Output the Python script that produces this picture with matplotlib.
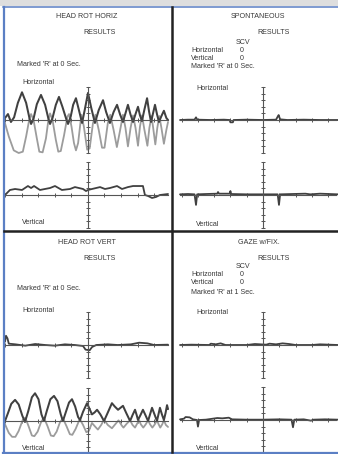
import matplotlib
matplotlib.use("Agg")
import matplotlib.pyplot as plt
from matplotlib.lines import Line2D
from matplotlib.patches import Rectangle

plt.rcParams['font.family'] = ['Liberation Sans', 'DejaVu Sans']

W, H = 338, 454

# ---- panel titles and result captions ----
PANEL_TITLES = ["HEAD ROT HORIZ", "SPONTANEOUS", "HEAD ROT VERT", "GAZE w/FIX."]
MARK_TEXT = ["Marked 'R' at 0 Sec.", "Marked 'R' at 0 Sec.",
             "Marked 'R' at 0 Sec.", "Marked 'R' at 1 Sec."]
SCV_HORIZ = [None, "0", None, "0"]
SCV_VERT = [None, "0", None, "0"]

# ---- eye traces: (time in s, amplitude) ----
TL_HORIZ_DARK = [(-5.03, 0.3), (-4.85, 0.9), (-4.67, -0.3), (-4.48, 0.4), (-4.25, 2.6), (-4.0, 4.2),
                 (-3.75, 2.6), (-3.55, 0.3), (-3.45, -0.6), (-3.3, 0.2), (-3.1, 2.4), (-2.85, 3.8),
                 (-2.6, 2.3), (-2.4, 0.2), (-2.3, -0.6), (-2.15, 0.3), (-1.95, 2.3), (-1.76, 3.5),
                 (-1.55, 2.0), (-1.3, 0.0), (-1.21, -0.6), (-1.05, 0.5), (-0.9, 2.3), (-0.73, 3.3),
                 (-0.55, 1.5), (-0.36, -0.45), (-0.2, 1.5), (0.0, 4.1), (0.2, 1.8), (0.42, -0.45),
                 (0.65, 1.5), (0.91, 3.0), (1.1, 1.2), (1.33, -0.45), (1.55, 1.2), (1.76, 2.3),
                 (1.95, 0.8), (2.12, -0.3), (2.27, 1.0), (2.42, 2.3), (2.58, 0.8), (2.73, -0.3),
                 (2.88, 0.9), (3.03, 2.0), (3.15, 0.7), (3.27, -0.15), (3.42, 1.6), (3.58, 3.3),
                 (3.7, 1.3), (3.82, -0.3), (3.94, 1.0), (4.06, 2.3), (4.18, 0.9), (4.3, -0.3),
                 (4.45, 0.6), (4.6, 1.4), (4.75, 0.3), (4.85, 0.0)]

TL_HORIZ_LIGHT = [(-5.03, -0.5), (-4.8, -2.5), (-4.5, -4.6), (-4.2, -5.0), (-3.95, -4.8), (-3.75, -2.5),
                  (-3.55, 0.2), (-3.45, 0.9), (-3.3, 0.0), (-3.1, -2.8), (-2.95, -4.8), (-2.75, -4.9),
                  (-2.55, -2.8), (-2.4, 0.0), (-2.3, 1.0), (-2.15, 0.0), (-1.95, -3.0), (-1.8, -4.8),
                  (-1.65, -4.7), (-1.45, -2.3), (-1.25, 0.5), (-1.15, 0.9), (-1.0, -1.0), (-0.85, -3.5),
                  (-0.73, -4.6), (-0.6, -3.5), (-0.4, 0.8), (-0.25, -1.0), (-0.05, -4.5), (0.1, -4.3),
                  (0.3, -0.5), (0.45, 0.8), (0.65, -1.5), (0.85, -4.2), (1.0, -4.2), (1.2, -0.5),
                  (1.35, 0.8), (1.55, -1.5), (1.75, -4.1), (1.95, -1.5), (2.12, 0.8), (2.27, -1.2),
                  (2.42, -4.0), (2.58, -1.2), (2.73, 0.7), (2.88, -1.2), (3.03, -3.9), (3.15, -1.0),
                  (3.27, 0.7), (3.42, -1.5), (3.6, -3.9), (3.72, -1.2), (3.85, 0.6), (3.95, -1.2),
                  (4.08, -3.7), (4.2, -1.2), (4.32, 0.6), (4.45, -1.2), (4.6, -3.6), (4.75, -1.5),
                  (4.85, -0.3)]

TL_VERT = [(-5.03, 0.0), (-4.73, 0.76), (-4.42, 0.91), (-4.0, 0.76), (-3.64, 1.36), (-3.45, 1.06),
           (-3.27, 1.36), (-2.91, 0.76), (-2.61, 0.91), (-2.3, 1.06), (-2.0, 1.36), (-1.58, 0.76),
           (-1.09, 0.91), (-0.79, 1.2), (-0.3, 0.91), (-0.12, 0.6), (0.0, 0.76), (0.24, 0.91),
           (0.73, 1.2), (1.03, 0.91), (1.33, 1.06), (1.76, 1.36), (2.06, 0.91), (2.42, 1.2),
           (2.73, 1.36), (3.03, 1.36), (3.33, 1.36), (3.45, 0.0), (3.64, -0.15), (3.88, -0.45),
           (4.12, -0.3), (4.36, 0.0), (4.85, 0.15)]

TR_HORIZ = [(-5.09, 0.0), (-4.6, 0.05), (-4.2, 0.05), (-4.11, 0.4), (-4.03, 0.05), (-3.2, 0.0),
            (-2.4, 0.05), (-2.05, 0.0), (-2.0, -0.35), (-1.85, -0.35), (-1.8, 0.0), (-1.0, 0.05),
            (0.0, 0.0), (0.8, 0.05), (0.9, 0.5), (0.96, 0.75), (1.05, 0.1), (1.5, 0.0),
            (2.5, 0.05), (3.5, 0.0), (4.6, 0.0)]

TR_VERT = [(-5.09, 0.1), (-4.6, 0.15), (-4.2, 0.1), (-4.11, -1.5), (-4.04, 0.1), (-3.5, 0.15),
           (-2.8, 0.2), (-2.76, 0.45), (-2.7, 0.2), (-2.05, 0.2), (-2.0, 0.6), (-1.95, 0.15),
           (-1.0, 0.1), (0.0, 0.1), (0.9, 0.1), (0.98, -1.5), (1.05, 0.1), (1.8, 0.15),
           (2.6, 0.2), (2.9, 0.1), (3.5, 0.2), (4.6, 0.1)]

BL_HORIZ = [(-5.03, 0.5), (-4.97, 1.4), (-4.88, 1.0), (-4.8, 0.2), (-4.4, 0.1), (-3.8, -0.1),
            (-3.2, 0.15), (-2.6, 0.0), (-2.0, -0.1), (-1.4, 0.1), (-0.8, 0.0), (-0.3, -0.15),
            (-0.15, -0.7), (0.1, -0.8), (0.25, -0.3), (0.5, 0.0), (1.2, 0.1), (1.8, 0.0),
            (2.6, 0.1), (3.1, 0.35), (3.6, 0.25), (4.0, 0.0), (4.85, 0.05)]

BL_VERT_DARK = [(-5.03, 0.0), (-4.85, 1.2), (-4.65, 2.6), (-4.42, 3.2), (-4.2, 2.5), (-3.98, 0.8),
                (-3.82, -0.15), (-3.62, 1.5), (-3.4, 3.6), (-3.21, 4.2), (-3.0, 3.3), (-2.82, 1.0),
                (-2.67, 0.0), (-2.5, 1.5), (-2.28, 3.3), (-2.06, 3.8), (-1.85, 3.0), (-1.65, 1.0),
                (-1.52, 0.0), (-1.35, 1.3), (-1.15, 2.8), (-0.97, 3.3), (-0.78, 2.2), (-0.6, 0.6),
                (-0.48, 0.15), (-0.3, 1.4), (-0.06, 2.7), (0.1, 1.8), (0.24, 1.0), (0.4, 1.3),
                (0.55, 1.7), (0.75, 1.0), (0.97, 0.0), (1.15, 1.0), (1.45, 2.7), (1.62, 2.2),
                (1.82, 1.7), (1.97, 2.0), (2.12, 2.3), (2.32, 1.2), (2.55, 0.0), (2.7, 0.9),
                (2.85, 1.7), (2.95, 0.9), (3.03, 0.15), (3.18, 0.9), (3.33, 1.7), (3.48, 0.9),
                (3.64, 0.0), (3.76, 1.0), (3.88, 2.0), (4.03, 1.0), (4.18, 0.0), (4.27, 1.0),
                (4.36, 2.0), (4.48, 1.0), (4.6, 0.15), (4.7, 1.2), (4.79, 2.4), (4.85, 1.8)]

BL_VERT_LIGHT = [(-5.03, -0.5), (-4.8, -1.8), (-4.6, -2.4), (-4.4, -2.4), (-4.2, -1.5), (-3.95, 0.2),
                 (-3.8, 0.5), (-3.6, -0.8), (-3.4, -2.2), (-3.25, -2.3), (-3.05, -1.6), (-2.85, -0.2),
                 (-2.67, 0.5), (-2.45, -0.8), (-2.25, -2.2), (-2.08, -2.3), (-1.9, -1.6), (-1.7, -0.2),
                 (-1.52, 0.4), (-1.3, -0.8), (-1.1, -2.0), (-0.95, -2.1), (-0.75, -1.2), (-0.5, 0.3),
                 (-0.3, -0.6), (-0.1, -1.7), (0.05, -1.5), (0.24, -0.3), (0.45, -0.9), (0.6, -1.3),
                 (0.8, -0.6), (0.97, 0.2), (1.2, -0.6), (1.45, -1.1), (1.65, -0.5), (1.85, 0.1),
                 (2.05, -0.7), (2.15, -1.0), (2.35, -0.4), (2.55, 0.1), (2.7, -0.6), (2.85, -1.0),
                 (3.0, -0.3), (3.1, 0.1), (3.2, -0.5), (3.35, -1.0), (3.5, -0.5), (3.64, 0.1),
                 (3.76, -0.5), (3.9, -1.0), (4.05, -0.5), (4.18, 0.1), (4.28, -0.5), (4.38, -1.0),
                 (4.5, -0.5), (4.6, 0.1), (4.72, -0.6), (4.85, -0.9)]

BR_HORIZ = [(-5.09, 0.0), (-4.4, 0.05), (-3.3, 0.0), (-3.2, 0.2), (-2.9, 0.1), (-2.6, 0.25),
            (-2.3, 0.0), (-1.0, 0.0), (-0.5, 0.15), (0.2, 0.05), (0.4, 0.2), (0.8, 0.1),
            (1.2, 0.25), (1.6, 0.15), (2.0, 0.0), (3.0, 0.0), (3.5, 0.1), (4.6, 0.0)]

BR_VERT = [(-5.09, 0.1), (-4.85, 0.2), (-4.75, 0.45), (-4.5, 0.4), (-4.3, 0.1), (-4.05, 0.0),
           (-3.99, -1.0), (-3.92, 0.0), (-3.5, 0.05), (-2.8, 0.3), (-2.5, 0.25), (-2.1, 0.35),
           (-1.9, 0.1), (-1.0, 0.05), (0.0, 0.05), (1.0, 0.1), (1.75, 0.05), (1.84, -1.1),
           (1.92, 0.05), (2.5, 0.1), (2.94, -0.1), (3.1, 0.05), (3.8, 0.1), (4.6, 0.05)]

DARK = '#404040'
LIGHT = '#9c9c9c'
AXIS = '#555555'
TEXT = '#383838'
BLUE = '#5b7fc4'

fig = plt.figure(figsize=(W / 100, H / 100), dpi=100)
fig.patch.set_facecolor('white')


def fx(x):
    return x / W


def fy(y):
    return 1 - y / H


def label(x, y, s, ha='left'):
    fig.text(fx(x), fy(y), s, ha=ha, va='center', fontsize=5.1, color=TEXT)


def trace_axes(x0, x1, x_zero, baseline, px_per_s, half=33):
    ax = fig.add_axes([fx(x0), fy(baseline + half), (x1 - x0) / W, 2 * half / H])
    lo = (x0 - x_zero) / px_per_s
    hi = (x1 - x_zero) / px_per_s
    ax.set_xlim(lo, hi)
    ax.set_ylim(-5, 5)
    ax.patch.set_alpha(0)
    for s in ('top', 'right'):
        ax.spines[s].set_visible(False)
    for s in ('left', 'bottom'):
        ax.spines[s].set_position(('data', 0))
        ax.spines[s].set_color(AXIS)
        ax.spines[s].set_linewidth(0.8)
    ax.set_xticks([k for k in range(-5, 5) if k != 0 and lo - 0.01 <= k <= hi])
    ax.set_yticks([k for k in range(-5, 6) if k != 0])
    ax.tick_params(direction='inout', length=3.5, width=0.7, color=AXIS,
                   labelbottom=False, labelleft=False)
    return ax


def draw(ax, pts, color, lw):
    t = [p[0] for p in pts]
    v = [p[1] for p in pts]
    ax.plot(t, v, color=color, lw=lw, solid_joinstyle='round',
            solid_capstyle='round', clip_on=False)


# left column: 5..168 px, zero at 88 px ; right column: 180..336 px, zero at 263 px
LEFT = dict(x0=5, x1=168, x_zero=88, px_per_s=16.5)
RIGHT = dict(x0=180, x1=336, x_zero=263, px_per_s=16.3)

ax = trace_axes(baseline=120, **LEFT)
draw(ax, TL_HORIZ_LIGHT, LIGHT, 1.3)
draw(ax, TL_HORIZ_DARK, DARK, 1.45)
ax = trace_axes(baseline=195, **LEFT)
draw(ax, TL_VERT, DARK, 1.3)

ax = trace_axes(baseline=120, **RIGHT)
draw(ax, TR_HORIZ, DARK, 1.3)
ax = trace_axes(baseline=195, **RIGHT)
draw(ax, TR_VERT, DARK, 1.3)

ax = trace_axes(baseline=345, **LEFT)
draw(ax, BL_HORIZ, DARK, 1.3)
ax = trace_axes(baseline=421, **LEFT)
draw(ax, BL_VERT_LIGHT, LIGHT, 1.3)
draw(ax, BL_VERT_DARK, DARK, 1.45)

ax = trace_axes(baseline=345, **RIGHT)
draw(ax, BR_HORIZ, DARK, 1.3)
ax = trace_axes(baseline=420, **RIGHT)
draw(ax, BR_VERT, DARK, 1.3)

# ---- text ----
# top-left
label(87, 17, PANEL_TITLES[0], ha='center')
label(83, 33, "RESULTS")
label(17, 65, MARK_TEXT[0])
label(22, 83, "Horizontal")
label(22, 222, "Vertical")
# top-right
label(258, 17, PANEL_TITLES[1], ha='center')
label(257, 33, "RESULTS")
label(236, 42, "SCV")
label(191, 50, "Horizontal")
label(240, 50, SCV_HORIZ[1])
label(191, 58, "Vertical")
label(240, 58, SCV_VERT[1])
label(191, 67, MARK_TEXT[1])
label(196, 88, "Horizontal")
label(196, 225, "Vertical")
# bottom-left
label(87, 242, PANEL_TITLES[2], ha='center')
label(83, 258, "RESULTS")
label(17, 289, MARK_TEXT[2])
label(22, 310, "Horizontal")
label(22, 448, "Vertical")
# bottom-right
label(259, 242, PANEL_TITLES[3], ha='center')
label(257, 258, "RESULTS")
label(236, 267, "SCV")
label(191, 275, "Horizontal")
label(240, 275, SCV_HORIZ[3])
label(191, 283, "Vertical")
label(240, 283, SCV_VERT[3])
label(191, 292, MARK_TEXT[3])
label(196, 313, "Horizontal")
label(196, 448, "Vertical")

# ---- page frame and panel dividers ----
fig.add_artist(Rectangle((0, fy(6)), 1, 6 / H, transform=fig.transFigure,
                         facecolor='#dedede', edgecolor='none'))
fig.add_artist(Line2D([fx(3), 1], [fy(7), fy(7)], transform=fig.transFigure,
                      color=BLUE, lw=1.1))
fig.add_artist(Line2D([fx(4), fx(4)], [fy(7), 0], transform=fig.transFigure,
                      color=BLUE, lw=1.6))
fig.add_artist(Line2D([fx(3), 1], [fy(452.5), fy(452.5)], transform=fig.transFigure,
                      color=BLUE, lw=1.6))
fig.add_artist(Line2D([fx(172), fx(172)], [fy(7), fy(452)], transform=fig.transFigure,
                      color='#222222', lw=1.8))
fig.add_artist(Line2D([fx(4), 1], [fy(231), fy(231)], transform=fig.transFigure,
                      color='#222222', lw=1.8))

fig.savefig('out.png', dpi=100)
